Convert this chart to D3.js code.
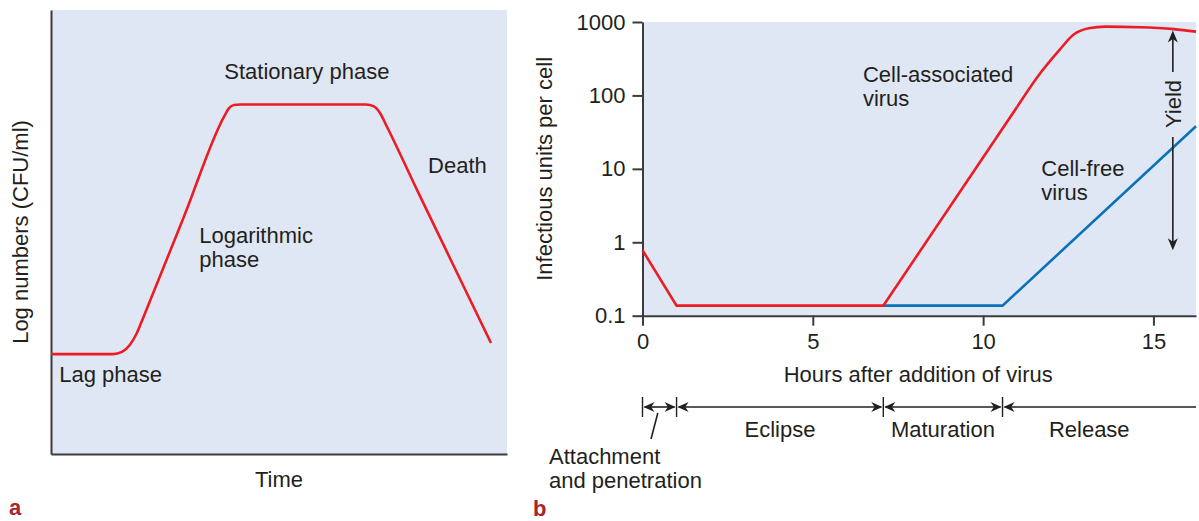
<!DOCTYPE html>
<html>
<head>
<meta charset="utf-8">
<script src="https://cdn.jsdelivr.net/npm/d3@7"></script>
<style>
  body { margin: 0; background: #fff; }
  svg { display: block; }
  text { font-family: "Liberation Sans", Arial, Helvetica, sans-serif; fill: #231f20; }
  .domain, .tick line { stroke: #3b3b3d; stroke-width: 2; }
</style>
</head>
<body>
<svg id="chart" width="1199" height="521"></svg>
<script>
// panel a: bacterial growth curve (arbitrary time / log units)
const growthTime = [0, 13.6, 15.57, 17.32, 18.86, 20.18, 29.17, 38.16, 39.04, 40.13, 41.45,
  69.08, 70.83, 72.15, 73.68, 80.26, 87.5, 96.49]
const growthLog = [2.25, 2.25, 2.3, 2.46, 2.73, 3.06, 5.35, 7.64, 7.79, 7.86, 7.87,
  7.87, 7.83, 7.68, 7.37, 5.95, 4.41, 2.5]
const growthLabels = [
  {lines: ["Stationary phase"], t: 38.0, v: 8.45},
  {lines: ["Logarithmic", "phase"], t: 32.5, v: 4.75},
  {lines: ["Death"], t: 82.7, v: 6.33},
  {lines: ["Lag phase"], t: 1.8, v: 1.62}
]

// panel b: one-step virus growth
const cellAssocHours = [0, 1.0, 7.07, 11.0, 11.6, 12.25, 12.65, 13.1, 13.6, 14.6, 15.6, 16.25]
const cellAssocUnits = [0.78, 0.137, 0.137, 70, 180, 420, 670, 820, 865, 850, 800, 740]
const cellFreeHours = [7.07, 10.57, 16.25]
const cellFreeUnits = [0.137, 0.137, 38]
const yTicks = [0.1, 1, 10, 100, 1000]
const xTicks = [0, 5, 10, 15]
const phaseNames = ["", "Eclipse", "Maturation", "Release"]
const phaseStarts = [0, 1.0, 7.07, 10.57]
const phaseEnds = [1.0, 7.07, 10.57, 16.25]
const yieldHour = 15.57

const red = "#ec1c24"
const blue = "#0a72b8"
const panelFill = "#e0e7f4"
const darkRed = "#a8262b"

const svg = d3.select("#chart")

// ---------- panel a ----------
const xA = d3.scaleLinear().domain([0, 100]).range([51, 507])
const yA = d3.scaleLinear().domain([0, 10]).range([454, 10])

const gA = svg.append("g")
gA.append("rect")
  .attr("x", xA(0)).attr("y", yA(10))
  .attr("width", xA(100) - xA(0)).attr("height", yA(0) - yA(10))
  .attr("fill", panelFill)

gA.append("g").attr("transform", `translate(0,${yA(0)})`)
  .call(d3.axisBottom(xA).tickValues([]).tickSizeOuter(0))
gA.append("g").attr("transform", `translate(${xA(0)},0)`)
  .call(d3.axisLeft(yA).tickValues([]).tickSizeOuter(0))

const growthLine = d3.line()
  .x((d, i) => xA(growthTime[i]))
  .y(d => yA(d))
  .curve(d3.curveMonotoneX)

gA.append("path")
  .attr("d", growthLine(growthLog))
  .attr("fill", "none")
  .attr("stroke", red)
  .attr("stroke-width", 2.6)
  .attr("stroke-linejoin", "round")

growthLabels.forEach(l => {
  const t = gA.append("text")
    .attr("x", xA(l.t)).attr("y", yA(l.v))
    .attr("font-size", 22)
  l.lines.forEach((s, i) => {
    t.append("tspan").attr("x", xA(l.t)).attr("dy", i ? 24 : 0).text(s)
  })
})

gA.append("text")
  .attr("transform", `translate(28,${(yA(0) + yA(10)) / 2}) rotate(-90)`)
  .attr("text-anchor", "middle")
  .attr("font-size", 22)
  .text("Log numbers (CFU/ml)")

gA.append("text")
  .attr("x", (xA(0) + xA(100)) / 2).attr("y", 487)
  .attr("text-anchor", "middle")
  .attr("font-size", 22)
  .text("Time")

// ---------- panel b ----------
const xB = d3.scaleLinear().domain([0, 16.25]).range([642.5, 1196])
const yB = d3.scaleLog().domain([0.1, 1000]).range([315.7, 22])

const gB = svg.append("g")
gB.append("rect")
  .attr("x", xB(0)).attr("y", yB(1000))
  .attr("width", xB(16.25) - xB(0)).attr("height", yB(0.1) - yB(1000))
  .attr("fill", panelFill)

const xAxisB = gB.append("g").attr("transform", `translate(0,${yB(0.1)})`)
  .call(d3.axisBottom(xB).tickValues(xTicks).tickSize(10).tickPadding(8).tickSizeOuter(0))
const yAxisB = gB.append("g").attr("transform", `translate(${xB(0)},0)`)
  .call(d3.axisLeft(yB).tickValues(yTicks).tickFormat(d3.format("~g")).tickSize(10).tickPadding(7).tickSizeOuter(0))
;[xAxisB, yAxisB].forEach(a => a.selectAll("text")
  .attr("font-size", 22)
  .attr("font-family", "Liberation Sans, Arial, sans-serif")
  .style("fill", "#231f20"))

const virusLine = (hours, curve) => d3.line()
  .x((d, i) => xB(hours[i]))
  .y(d => yB(d))
  .curve(curve)

gB.append("path")
  .attr("d", virusLine(cellFreeHours, d3.curveLinear)(cellFreeUnits))
  .attr("fill", "none").attr("stroke", blue).attr("stroke-width", 2.6)

// sharp corners for the lag / eclipse part, smooth bend at the plateau
const bend = 3
gB.append("path")
  .attr("d", virusLine(cellAssocHours.slice(0, bend + 1), d3.curveLinear)(cellAssocUnits.slice(0, bend + 1)))
  .attr("fill", "none").attr("stroke", red).attr("stroke-width", 2.6)
gB.append("path")
  .attr("d", virusLine(cellAssocHours.slice(bend), d3.curveMonotoneX)(cellAssocUnits.slice(bend)))
  .attr("fill", "none").attr("stroke", red).attr("stroke-width", 2.6)

const addLabel = (g, lines, x, y) => {
  const t = g.append("text").attr("x", x).attr("y", y).attr("font-size", 22)
  lines.forEach((s, i) => t.append("tspan").attr("x", x).attr("dy", i ? 24 : 0).text(s))
}
addLabel(gB, ["Cell-associated", "virus"], xB(6.47), yB(150))
addLabel(gB, ["Cell-free", "virus"], xB(11.71), yB(8))

gB.append("text")
  .attr("transform", `translate(552,${(yB(0.1) + yB(1000)) / 2}) rotate(-90)`)
  .attr("text-anchor", "middle")
  .attr("font-size", 22)
  .text("Infectious units per cell")

gB.append("text")
  .attr("x", (xB(0) + xB(16.25)) / 2 - 1).attr("y", 382)
  .attr("text-anchor", "middle")
  .attr("font-size", 22)
  .text("Hours after addition of virus")

// arrowhead with its tip at (x, y)
const arrowHead = (g, x, y, dir, len = 10, half = 4.5) => {
  let p
  if (dir === "up") p = [[x, y], [x - half, y + len], [x, y + len * 0.7], [x + half, y + len]]
  if (dir === "down") p = [[x, y], [x - half, y - len], [x, y - len * 0.7], [x + half, y - len]]
  if (dir === "left") p = [[x, y], [x + len, y - half], [x + len * 0.7, y], [x + len, y + half]]
  if (dir === "right") p = [[x, y], [x - len, y - half], [x - len * 0.7, y], [x - len, y + half]]
  g.append("path").attr("d", "M" + p.join("L") + "Z").attr("fill", "#231f20")
}

// yield arrow: from the initial titre up to the cell-associated titre at yieldHour
const yx = xB(yieldHour)
const topUnits = d3.scaleLinear().domain(cellAssocHours).range(cellAssocUnits)(yieldHour)
const yTop = yB(topUnits) + 1.5
const yBot = yB(cellAssocUnits[0])
const yMid = 104
gB.append("line").attr("x1", yx).attr("x2", yx).attr("y1", yTop + 4).attr("y2", yMid - 32)
  .attr("stroke", "#231f20").attr("stroke-width", 1.6)
gB.append("line").attr("x1", yx).attr("x2", yx).attr("y1", yMid + 33).attr("y2", yBot - 4)
  .attr("stroke", "#231f20").attr("stroke-width", 1.6)
arrowHead(gB, yx, yTop, "up", 12, 5)
arrowHead(gB, yx, yBot, "down", 12, 5)
gB.append("text")
  .attr("transform", `translate(${yx + 8},${yMid}) rotate(-90)`)
  .attr("text-anchor", "middle")
  .attr("font-size", 22)
  .text("Yield")

// phase timeline
const tlY = 407
const gT = svg.append("g")
phaseStarts.forEach((s, i) => {
  const x0 = xB(s), x1 = xB(phaseEnds[i])
  gT.append("line").attr("x1", x0).attr("x2", x0).attr("y1", tlY - 10).attr("y2", tlY + 10)
    .attr("stroke", "#231f20").attr("stroke-width", 1.4)
  gT.append("line").attr("x1", x0 + 2).attr("x2", i === 3 ? x1 : x1 - 2).attr("y1", tlY).attr("y2", tlY)
    .attr("stroke", "#231f20").attr("stroke-width", 1.6)
  arrowHead(gT, x0 + 1, tlY, "left", 11, 5)
  if (i < 3) arrowHead(gT, x1 - 1, tlY, "right", 11, 5)
  if (phaseNames[i]) {
    gT.append("text")
      .attr("x", (x0 + (i === 3 ? x1 - 20 : x1)) / 2).attr("y", 437)
      .attr("text-anchor", "middle")
      .attr("font-size", 22)
      .text(phaseNames[i])
  }
})
gT.append("line")
  .attr("x1", xB(0.45)).attr("y1", 413).attr("x2", xB(0.25)).attr("y2", 439)
  .attr("stroke", "#231f20").attr("stroke-width", 1.6)
addLabel(gT, ["Attachment", "and penetration"], 549, 464)

// panel letters
svg.append("text").attr("x", 9).attr("y", 515)
  .attr("font-size", 22).attr("font-weight", "bold")
  .attr("font-family", "Liberation Sans Narrow, Liberation Sans, Arial, sans-serif")
  .style("fill", darkRed).text("a")
svg.append("text").attr("x", 533).attr("y", 516)
  .attr("font-size", 22).attr("font-weight", "bold")
  .attr("font-family", "Liberation Sans Narrow, Liberation Sans, Arial, sans-serif")
  .style("fill", darkRed).text("b")
</script>
</body>
</html>
